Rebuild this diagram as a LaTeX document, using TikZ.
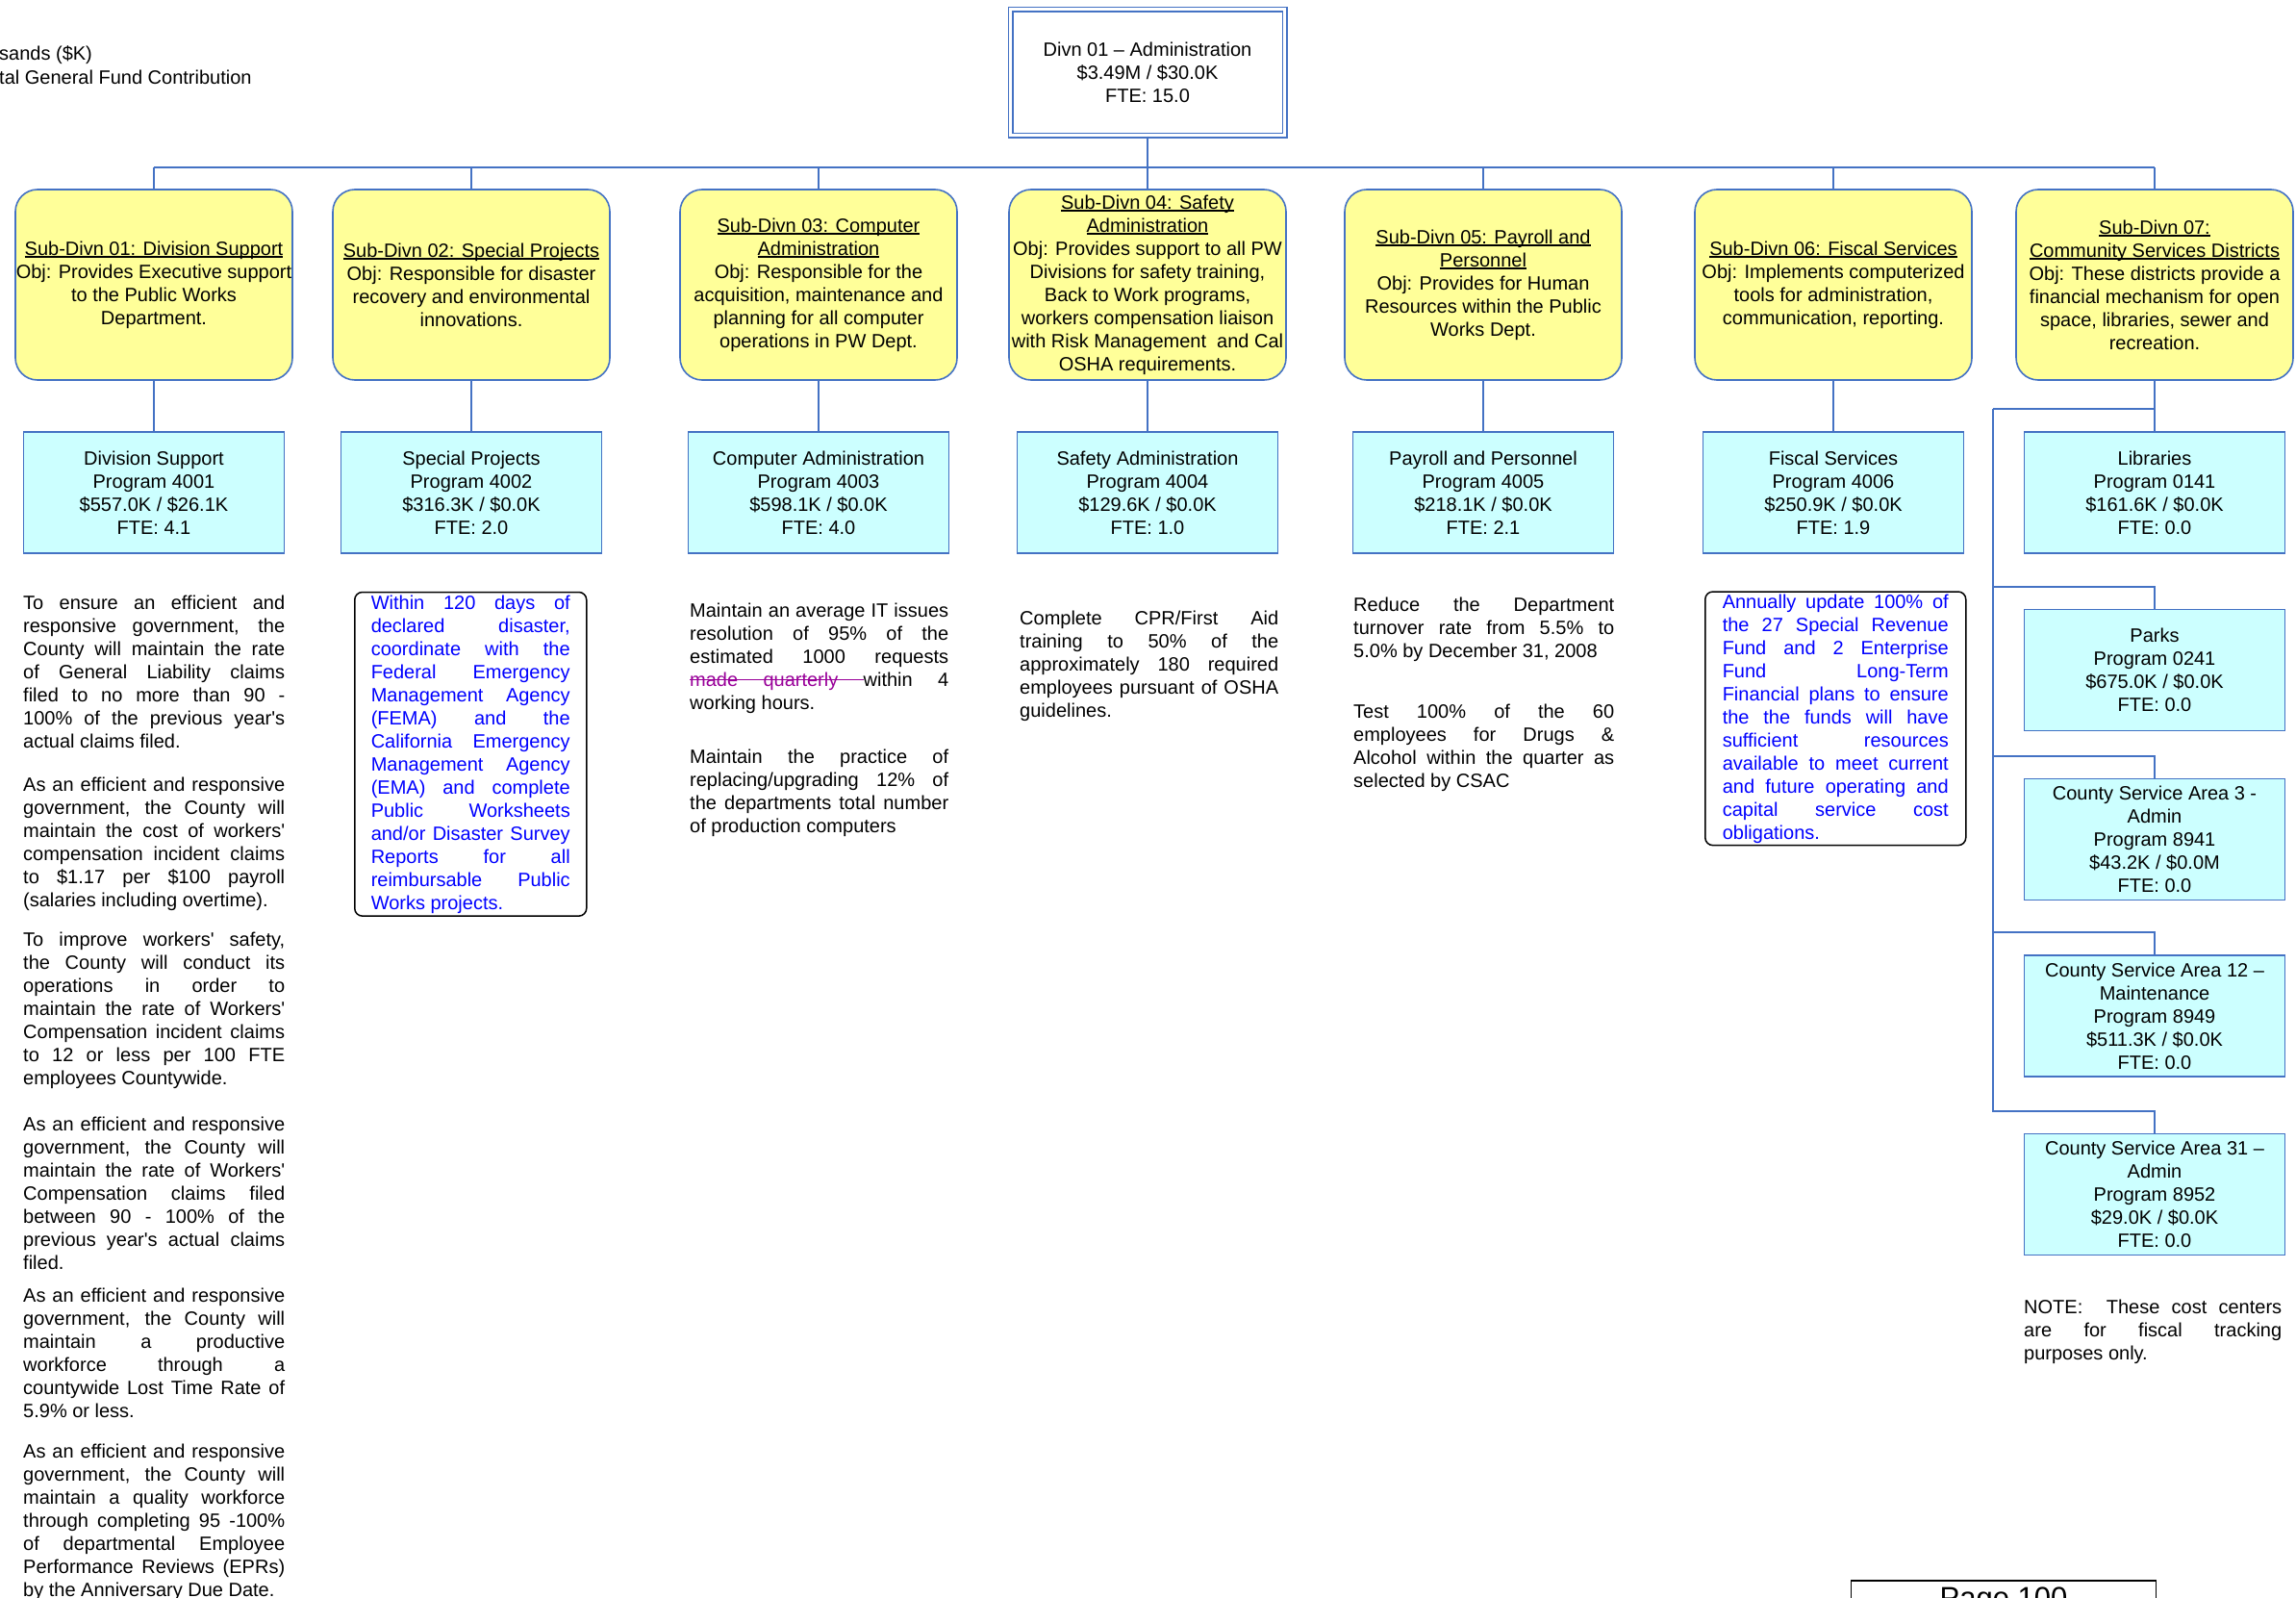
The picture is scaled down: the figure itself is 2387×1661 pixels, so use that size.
\documentclass[tikz,border=0pt]{standalone}
\usepackage{fontspec}
\setmainfont{Liberation Sans}
\usepackage{xcolor}
\usepackage{tikz}
\usetikzlibrary{calc}

\definecolor{orgline}{RGB}{68,114,196}
\definecolor{subfill}{RGB}{255,255,153}
\definecolor{progfill}{RGB}{204,255,255}
\definecolor{goalblue}{RGB}{0,0,255}
\definecolor{strikepurple}{RGB}{153,0,153}

\newsavebox\ulsave
\newcommand\ulbox[1]{\sbox\ulsave{#1}\rlap{\rule[-2.6pt]{\wd\ulsave}{1.3pt}}\usebox\ulsave}
\newcommand\strikeword[1]{\sbox\ulsave{#1}\rlap{\rule[6pt]{\wd\ulsave}{1.3pt}}\usebox\ulsave}
\newcommand\strikespace{\leaders\hrule height 7.3pt depth -6pt\hskip\fontdimen2\font plus\fontdimen3\font minus\fontdimen4\font}
\newcommand\apo{\textquotesingle}
\tolerance=10000
\hbadness=10000
\hyphenpenalty=10000

\begin{document}
\begin{tikzpicture}[x=1pt,y=-1pt,
		every node/.style={font=\fontsize{20}{24}\selectfont,inner sep=0pt},
		conn/.style={draw=orgline,line width=2pt},
		subdiv/.style={draw=orgline,line width=1.6pt,fill=subfill,rounded corners=23pt,minimum width=288pt,minimum height=198pt,align=center},
		prog/.style={draw=orgline,line width=1.6pt,fill=progfill,minimum width=271pt,minimum height=126pt,align=center},
		goal/.style={anchor=base west,align=justify},
		goalbox/.style={goal,draw=black,line width=1.5pt,rounded corners=8pt,text=goalblue}]
	\useasboundingbox (0,0) rectangle (2387,1661);
	\fill[white] (0,0) rectangle (2387,1661);

	\node[anchor=base west] (unit) at (-1,63) {sands (\$K)};
	\node[anchor=base west] (gfc) at (-1,88) {tal General Fund Contribution};

	\node[draw=orgline,double,double distance=3pt,line width=1.5pt,minimum width=285pt,minimum height=131pt,align=center] (divn) at (1193,75.5) {Divn 01 – Administration\\\$3.49M / \$30.0K\\FTE: 15.0};

	\node[subdiv] (sd1) at (160,296) {\ulbox{Sub-Divn 01: Division Support}\\Obj: Provides Executive support\\to the Public Works\\Department.};
	\node[subdiv] (sd2) at (490,296) {\ulbox{Sub-Divn 02: Special Projects}\\Obj: Responsible for disaster\\recovery and environmental\\innovations.};
	\node[subdiv] (sd3) at (851,296) {\ulbox{Sub-Divn 03: Computer}\\\ulbox{Administration}\\Obj: Responsible for the\\acquisition, maintenance and\\planning for all computer\\operations in PW Dept.};
	\node[subdiv] (sd4) at (1193,296) {\ulbox{Sub-Divn 04: Safety}\\\ulbox{Administration}\\Obj: Provides support to all PW\\Divisions for safety training,\\Back to Work programs,\\workers compensation liaison\\with Risk Management \ and Cal\\OSHA requirements.};
	\node[subdiv] (sd5) at (1542,296) {\ulbox{Sub-Divn 05: Payroll and}\\\ulbox{Personnel}\\Obj: Provides for Human\\Resources within the Public\\Works Dept.};
	\node[subdiv] (sd6) at (1906,296) {\ulbox{Sub-Divn 06: Fiscal Services}\\Obj: Implements computerized\\tools for administration,\\communication, reporting.};
	\node[subdiv] (sd7) at (2240,296) {\ulbox{Sub-Divn 07:}\\\ulbox{Community Services Districts}\\Obj: These districts provide a\\financial mechanism for open\\space, libraries, sewer and\\recreation.};

	\node[prog] (pg1) at (160,512) {Division Support\\Program 4001\\\$557.0K / \$26.1K\\FTE: 4.1};
	\node[prog] (pg2) at (490,512) {Special Projects\\Program 4002\\\$316.3K / \$0.0K\\FTE: 2.0};
	\node[prog] (pg3) at (851,512) {Computer Administration\\Program 4003\\\$598.1K / \$0.0K\\FTE: 4.0};
	\node[prog] (pg4) at (1193,512) {Safety Administration\\Program 4004\\\$129.6K / \$0.0K\\FTE: 1.0};
	\node[prog] (pg5) at (1542,512) {Payroll and Personnel\\Program 4005\\\$218.1K / \$0.0K\\FTE: 2.1};
	\node[prog] (pg6) at (1906,512) {Fiscal Services\\Program 4006\\\$250.9K / \$0.0K\\FTE: 1.9};
	\node[prog] (lib) at (2240,512) {Libraries\\Program 0141\\\$161.6K / \$0.0K\\FTE: 0.0};
	\node[prog] (parks) at (2240,696.5) {Parks\\Program 0241\\\$675.0K / \$0.0K\\FTE: 0.0};
	\node[prog] (csa3) at (2240,872.5) {County Service Area 3 -\\Admin\\Program 8941\\\$43.2K / \$0.0M\\FTE: 0.0};
	\node[prog] (csa12) at (2240,1056) {County Service Area 12 –\\Maintenance\\Program 8949\\\$511.3K / \$0.0K\\FTE: 0.0};
	\node[prog] (csa31) at (2240,1241.5) {County Service Area 31 –\\Admin\\Program 8952\\\$29.0K / \$0.0K\\FTE: 0.0};

	\coordinate (bus) at (0,174);
	\draw[conn] (divn.south) -- (divn.south |- bus);
	\draw[conn] (sd1.north |- bus) -- (sd7.north |- bus);
	\foreach \i in {1,...,7}
		\draw[conn] (sd\i.north) -- (sd\i.north |- bus);
	\foreach \i in {1,...,6}
		\draw[conn] (sd\i.south) -- (pg\i.north);
	\draw[conn] (sd7.south) -- (lib.north);
	\coordinate (trunk) at (2072,425);
	\draw[conn] (trunk) -- (trunk -| lib.north);
	\foreach \b in {parks,csa3,csa12,csa31}
		\draw[conn] (\b.north) -- ++(0,-23) -| (trunk);

	\node[goal,text width=272pt] (g1a) at (24,633) {To ensure an efficient and\linebreak responsive government, the\linebreak County will maintain the rate\linebreak of General Liability claims\linebreak filed to no more than 90 -\linebreak 100\% of the previous year\apo s\linebreak actual claims filed.};
	\node[goal,text width=272pt] (g1b) at (24,822) {As an efficient and responsive\linebreak government, the County will\linebreak maintain the cost of workers\apo\linebreak compensation incident claims\linebreak to \$1.17 per \$100 payroll\linebreak (salaries including overtime).};
	\node[goal,text width=272pt] (g1c) at (24,983) {To improve workers\apo{} safety,\linebreak the County will conduct its\linebreak operations in order to\linebreak maintain the rate of Workers\apo\linebreak Compensation incident claims\linebreak to 12 or less per 100 FTE\linebreak employees Countywide.};
	\node[goal,text width=272pt] (g1d) at (24,1175) {As an efficient and responsive\linebreak government, the County will\linebreak maintain the rate of Workers\apo\linebreak Compensation claims filed\linebreak between 90 - 100\% of the\linebreak previous year\apo s actual claims\linebreak filed.};
	\node[goal,text width=272pt] (g1e) at (24,1353) {As an efficient and responsive\linebreak government, the County will\linebreak maintain a productive\linebreak workforce through a\linebreak countywide Lost Time Rate of\linebreak 5.9\% or less.};
	\node[goal,text width=272pt] (g1f) at (24,1515) {As an efficient and responsive\linebreak government, the County will\linebreak maintain a quality workforce\linebreak through completing 95 -100\%\linebreak of departmental Employee\linebreak Performance Reviews (EPRs)\linebreak by the Anniversary Due Date.};

	\node[goalbox,text width=207pt,inner xsep=17pt,inner ysep=3pt] (g2) at (368,633) {Within 120 days of\linebreak declared disaster,\linebreak coordinate with the\linebreak Federal Emergency\linebreak Management Agency\linebreak (FEMA) and the\linebreak California Emergency\linebreak Management Agency\linebreak (EMA) and complete\linebreak Public Worksheets\linebreak and/or Disaster Survey\linebreak Reports for all\linebreak reimbursable Public\linebreak Works projects.};

	\node[goal,text width=269pt] (g3a) at (717,641) {Maintain an average IT issues\linebreak resolution of 95\% of the\linebreak estimated 1000 requests\linebreak {\color{strikepurple}\strikeword{made}\strikespace\strikeword{quarterly}\strikespace}within 4\linebreak working hours.};
	\node[goal,text width=269pt] (g3b) at (717,793) {Maintain the practice of\linebreak replacing/upgrading 12\% of\linebreak the departments total number\linebreak of production computers};

	\node[goal,text width=269pt] (g4) at (1060,649) {Complete CPR/First Aid\linebreak training to 50\% of the\linebreak approximately 180 required\linebreak employees pursuant of OSHA\linebreak guidelines.};

	\node[goal,text width=271pt] (g5a) at (1407,635) {Reduce the Department\linebreak turnover rate from 5.5\% to\linebreak 5.0\% by December 31, 2008};
	\node[goal,text width=271pt] (g5b) at (1407,746) {Test 100\% of the 60\linebreak employees for Drugs \&\linebreak Alcohol within the quarter as\linebreak selected by CSAC};

	\node[goalbox,text width=235pt,inner xsep=18pt,inner ysep=2.5pt] (g6) at (1772,632) {Annually update 100\% of\linebreak the 27 Special Revenue\linebreak Fund and 2 Enterprise\linebreak Fund Long-Term\linebreak Financial plans to ensure\linebreak the the funds will have\linebreak sufficient resources\linebreak available to meet current\linebreak and future operating and\linebreak capital service cost\linebreak obligations.};

	\node[goal,text width=268pt] (note) at (2104,1365) {NOTE:\ \ These cost centers\linebreak are for fiscal tracking\linebreak purposes only.};

	\node[draw=black,line width=1.5pt,font=\fontsize{31}{36}\selectfont,minimum width=317pt,text height=22pt,text depth=30pt,inner ysep=6pt,anchor=base] (page) at (2083,1671) {Page 100};
\end{tikzpicture}
\end{document}
